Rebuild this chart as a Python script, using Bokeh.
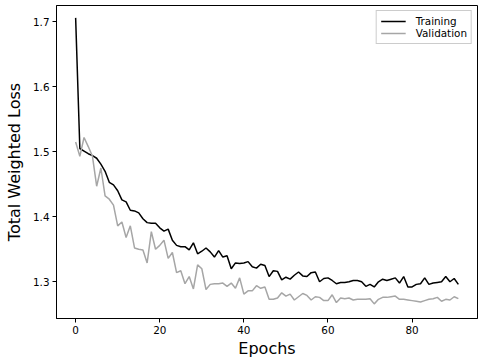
from bokeh.plotting import figure
from bokeh.models import ColumnDataSource, Range1d, FixedTicker
from bokeh.embed import file_html
from bokeh.resources import INLINE

training = [
    1.706, 1.505, 1.501, 1.497, 1.494, 1.490, 1.481, 1.470, 1.453, 1.449,
    1.440, 1.426, 1.423, 1.410, 1.409, 1.406, 1.397, 1.391, 1.390, 1.390,
    1.383, 1.378, 1.381, 1.364, 1.356, 1.354, 1.354, 1.349, 1.360, 1.343,
    1.347, 1.352, 1.346, 1.338, 1.348, 1.338, 1.340, 1.320, 1.329, 1.328,
    1.329, 1.331, 1.323, 1.321, 1.327, 1.325, 1.308, 1.317, 1.316, 1.303,
    1.307, 1.304, 1.310, 1.315, 1.309, 1.308, 1.314, 1.315, 1.300, 1.305,
    1.306, 1.302, 1.297, 1.299, 1.299, 1.300, 1.302, 1.302, 1.300, 1.293,
    1.296, 1.292, 1.300, 1.304, 1.302, 1.304, 1.306, 1.298, 1.308, 1.292,
    1.292, 1.296, 1.297, 1.306, 1.296, 1.298, 1.299, 1.300, 1.308, 1.300,
    1.305, 1.296,
]

validation = [
    1.515, 1.493, 1.522, 1.508, 1.493, 1.447, 1.475, 1.432, 1.427, 1.418,
    1.386, 1.392, 1.368, 1.386, 1.352, 1.350, 1.349, 1.329, 1.377, 1.350,
    1.356, 1.364, 1.336, 1.345, 1.314, 1.317, 1.297, 1.308, 1.289, 1.326,
    1.320, 1.288, 1.296, 1.297, 1.297, 1.298, 1.293, 1.298, 1.290, 1.306,
    1.281, 1.286, 1.286, 1.294, 1.290, 1.292, 1.273, 1.273, 1.275, 1.283,
    1.278, 1.281, 1.272, 1.277, 1.282, 1.279, 1.272, 1.277, 1.276, 1.271,
    1.271, 1.280, 1.268, 1.275, 1.274, 1.275, 1.272, 1.273, 1.273, 1.273,
    1.274, 1.266, 1.273, 1.276, 1.276, 1.277, 1.278, 1.273, 1.273, 1.272,
    1.271, 1.270, 1.269, 1.271, 1.273, 1.274, 1.276, 1.270, 1.273, 1.272,
    1.277, 1.274,
]

epochs = list(range(len(training)))
x_ticks = [0, 20, 40, 60, 80]
y_ticks = [1.3, 1.4, 1.5, 1.6, 1.7]

source = ColumnDataSource(dict(epoch=epochs, train=training, val=validation))

FONT = "DejaVu Sans"

p = figure(
    width=480, height=361,
    output_backend="svg", toolbar_location=None,
    x_range=Range1d(-4.55, 95.55), y_range=Range1d(1.2435, 1.725),
    min_border_left=56, min_border_right=3, min_border_top=5, min_border_bottom=43,
)

p.line("epoch", "train", source=source, line_color="black", line_width=1.5,
       legend_label="Training")
p.line("epoch", "val", source=source, line_color="#a6a6a6", line_width=1.5,
       legend_label="Validation")

p.grid.visible = False
p.outline_line_color = "black"
p.outline_line_width = 1
p.background_fill_color = "white"
p.border_fill_color = "white"

p.xaxis.ticker = FixedTicker(ticks=x_ticks)
p.yaxis.ticker = FixedTicker(ticks=y_ticks)
p.yaxis.major_label_overrides = {t: f"{t:.1f}" for t in y_ticks}

for ax in (p.xaxis, p.yaxis):
    ax.axis_line_color = "black"
    ax.major_tick_line_color = "black"
    ax.major_tick_out = 4
    ax.major_tick_in = 0
    ax.minor_tick_line_color = None
    ax.major_label_text_font = FONT
    ax.major_label_text_font_size = "10.4px"
    ax.major_label_text_color = "black"
    ax.major_label_standoff = 3
    ax.axis_label_text_font = FONT
    ax.axis_label_text_font_size = "16px"
    ax.axis_label_text_font_style = "normal"
    ax.axis_label_text_color = "black"

p.xaxis.axis_label_standoff = 2
p.yaxis.axis_label_standoff = 6

p.xaxis.axis_label = "Epochs"
p.yaxis.axis_label = "Total Weighted Loss"

leg = p.legend[0]
leg.location = "top_right"
leg.margin = 5
leg.padding = 4
leg.spacing = 0
leg.glyph_width = 25
leg.glyph_height = 10
leg.label_height = 10
leg.label_standoff = 10
leg.label_text_font = FONT
leg.label_text_font_size = "10.4px"
leg.label_text_color = "black"
leg.border_line_color = "#9a9a9a"
leg.border_line_width = 1
leg.background_fill_alpha = 0.8

open("out.html", "w").write(file_html(p, INLINE))
